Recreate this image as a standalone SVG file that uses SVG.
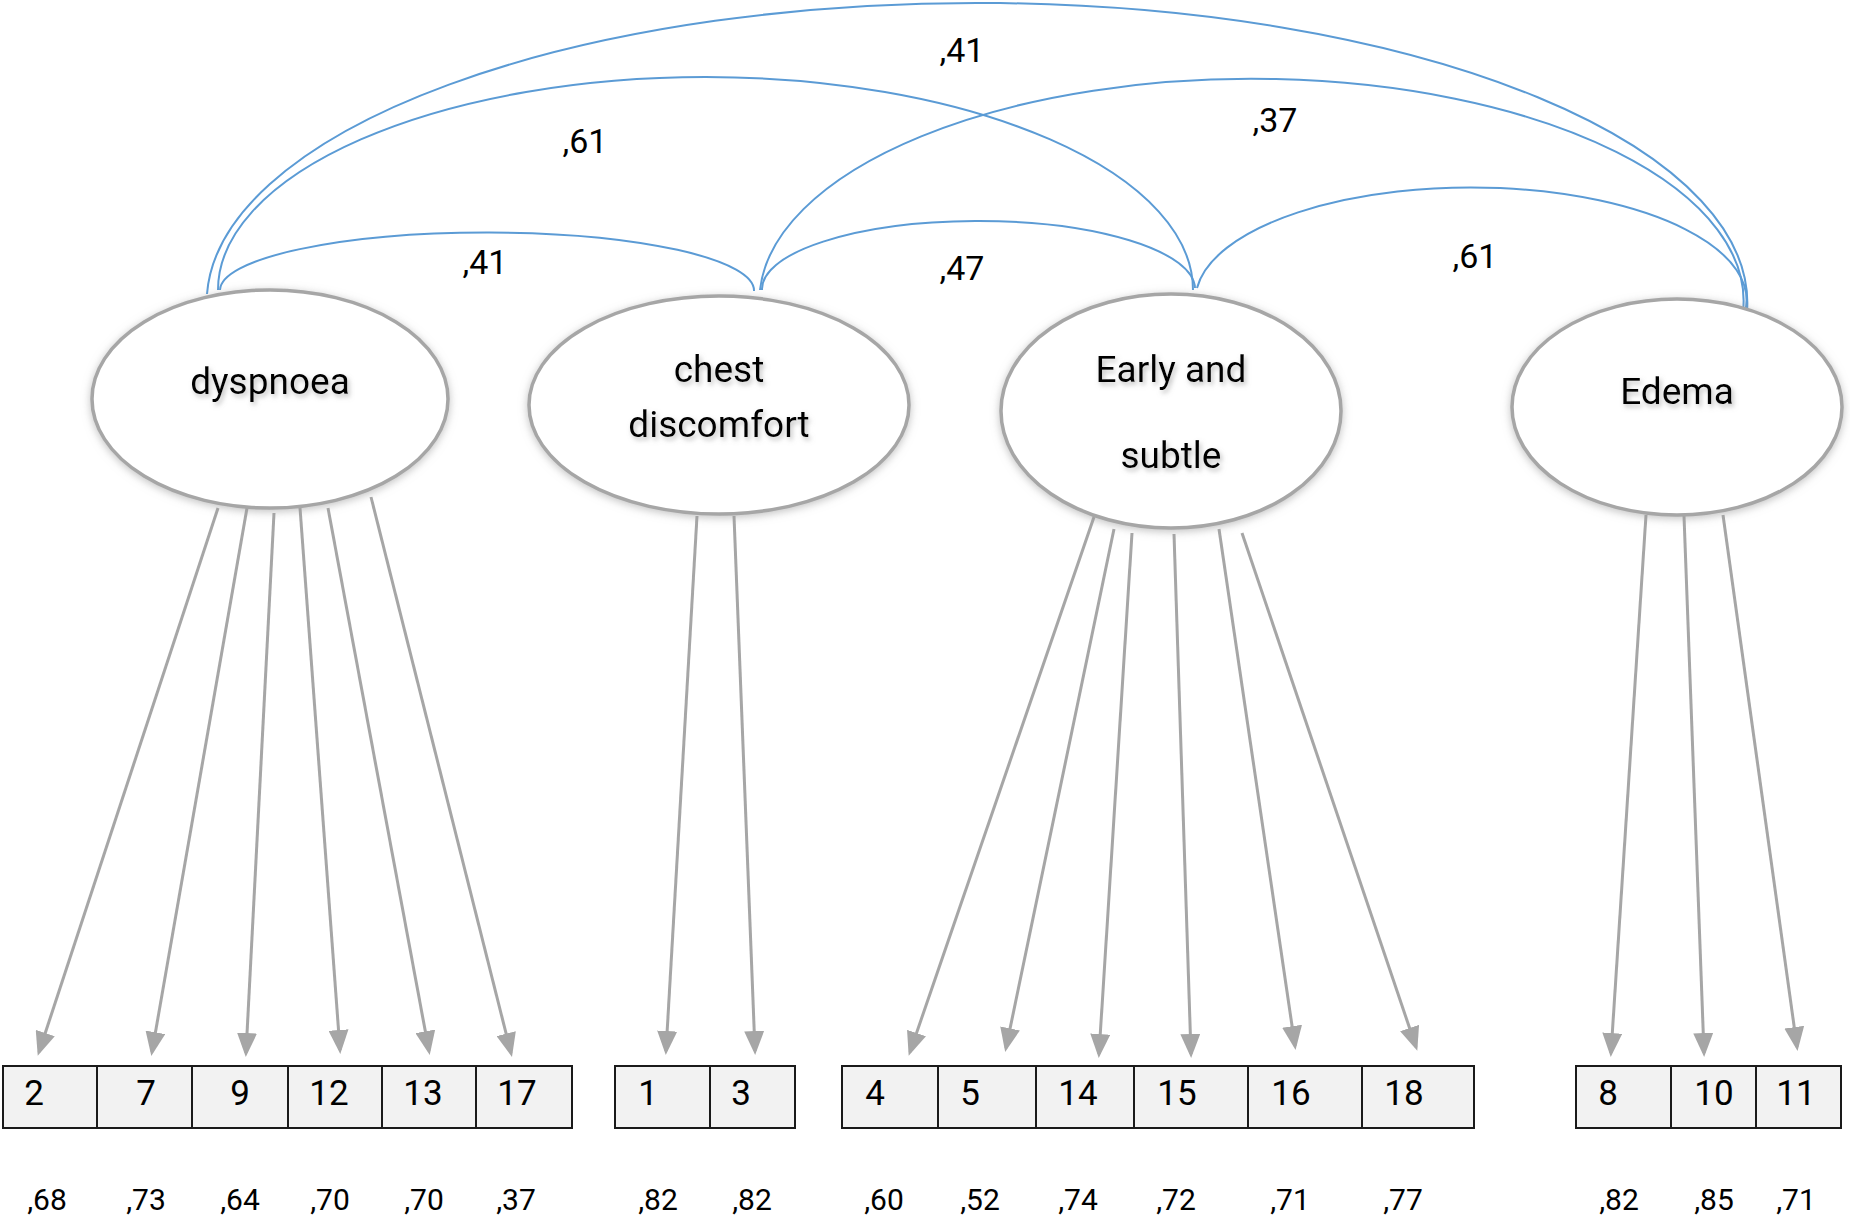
<svg xmlns="http://www.w3.org/2000/svg" width="1850" height="1218" viewBox="0 0 1850 1218">
<defs>
<style>
.lat{fill:#ffffff;stroke:#a6a6a6;stroke-width:3.5}
.lbl{font-family:Roboto,"Open Sans",sans-serif;font-size:37px;fill:#000;text-anchor:middle}
.cor{fill:none;stroke:#5b9bd5;stroke-width:2}
.cv{font-family:Roboto,"Open Sans",sans-serif;font-size:34px;fill:#000;text-anchor:middle}
.ld{stroke:#a6a6a6;stroke-width:3;fill:none;marker-end:url(#ah)}
.cell{fill:#f2f2f2;stroke:#1a1a1a;stroke-width:2}
.num{font-family:Roboto,"Open Sans",sans-serif;font-size:35px;fill:#000;text-anchor:middle}
.val{font-family:Roboto,"Open Sans",sans-serif;font-size:30px;fill:#000;text-anchor:middle}
</style>
<marker id="ah" markerUnits="userSpaceOnUse" markerWidth="24" markerHeight="20" refX="20" refY="10" orient="auto">
<path d="M0,0 L24,10 L0,20 Z" fill="#a6a6a6"/>
</marker>
<filter id="sh" x="-20%" y="-20%" width="140%" height="140%">
<feGaussianBlur in="SourceAlpha" stdDeviation="4"/>
<feOffset dx="0" dy="2" result="b"/>
<feFlood flood-color="#999999" flood-opacity="0.6"/>
<feComposite in2="b" operator="in"/>
<feMerge><feMergeNode/><feMergeNode in="SourceGraphic"/></feMerge>
</filter>
<filter id="tsh" x="-20%" y="-30%" width="140%" height="160%">
<feGaussianBlur in="SourceAlpha" stdDeviation="2.5"/>
<feOffset dx="2" dy="3" result="b"/>
<feFlood flood-color="#888888" flood-opacity="0.55"/>
<feComposite in2="b" operator="in"/>
<feMerge><feMergeNode/><feMergeNode in="SourceGraphic"/></feMerge>
</filter>
</defs>
<rect width="1850" height="1218" fill="#ffffff"/>

<g id="connectors">
<g id="correlations">
<path class="cor" d="M207,294 A770,300 0 0 1 1747,312"/>
<path class="cor" d="M218,290 A487.5,213 0 0 1 1193,290"/>
<path class="cor" d="M220,290 A267,58 0 0 1 754,291"/>
<path class="cor" d="M760,290 A491.6,222 0 0 1 1743,312"/>
<path class="cor" d="M762,290 A216.5,68 0 0 1 1195,288"/>
<path class="cor" d="M1197,288 A274,112 0 0 1 1745,312"/>
</g>
<g id="loadings">
<line class="ld" x1="218" y1="508" x2="39" y2="1052"/>
<line class="ld" x1="247" y1="508" x2="152" y2="1052"/>
<line class="ld" x1="274" y1="513" x2="246" y2="1053"/>
<line class="ld" x1="300" y1="508" x2="340" y2="1050"/>
<line class="ld" x1="328" y1="508" x2="429" y2="1051"/>
<line class="ld" x1="371" y1="497" x2="511" y2="1053"/>
<line class="ld" x1="697" y1="516" x2="666" y2="1051"/>
<line class="ld" x1="734" y1="516" x2="755" y2="1051"/>
<line class="ld" x1="1094" y1="517" x2="910" y2="1052"/>
<line class="ld" x1="1114" y1="529" x2="1006" y2="1048"/>
<line class="ld" x1="1132" y1="533" x2="1099" y2="1054"/>
<line class="ld" x1="1174" y1="534" x2="1191" y2="1054"/>
<line class="ld" x1="1219" y1="529" x2="1295" y2="1046"/>
<line class="ld" x1="1242" y1="533" x2="1416" y2="1047"/>
<line class="ld" x1="1646" y1="515" x2="1611" y2="1053"/>
<line class="ld" x1="1684" y1="516" x2="1704" y2="1053"/>
<line class="ld" x1="1723" y1="515" x2="1797" y2="1047"/>
</g>
<g id="correlation-labels">
<text class="cv" x="962" y="62">,41</text>
<text class="cv" x="585" y="153">,61</text>
<text class="cv" x="1275" y="132">,37</text>
<text class="cv" x="485" y="274">,41</text>
<text class="cv" x="962" y="280">,47</text>
<text class="cv" x="1475" y="268">,61</text>
</g>
</g>

<g id="dyspnoea">
<ellipse class="lat" filter="url(#sh)" cx="270" cy="399" rx="178" ry="109"/>
<text class="lbl" filter="url(#tsh)" x="270" y="394">dyspnoea</text>
</g>
<g id="chest-discomfort">
<ellipse class="lat" filter="url(#sh)" cx="719" cy="405" rx="190" ry="109"/>
<text class="lbl" filter="url(#tsh)" x="719" y="382">chest</text>
<text class="lbl" filter="url(#tsh)" x="719" y="437">discomfort</text>
</g>
<g id="early-and-subtle">
<ellipse class="lat" filter="url(#sh)" cx="1171" cy="411" rx="170" ry="117"/>
<text class="lbl" filter="url(#tsh)" x="1171" y="382">Early and</text>
<text class="lbl" filter="url(#tsh)" x="1171" y="468">subtle</text>
</g>
<g id="edema">
<ellipse class="lat" filter="url(#sh)" cx="1677" cy="407" rx="165" ry="108"/>
<text class="lbl" filter="url(#tsh)" x="1677" y="404">Edema</text>
</g>

<g id="item-2"><rect class="cell" x="3" y="1066" width="94" height="62"/><text class="num" x="34" y="1105">2</text><text class="val" x="47" y="1210">,68</text></g>
<g id="item-7"><rect class="cell" x="97" y="1066" width="95" height="62"/><text class="num" x="146" y="1105">7</text><text class="val" x="146" y="1210">,73</text></g>
<g id="item-9"><rect class="cell" x="192" y="1066" width="96" height="62"/><text class="num" x="240" y="1105">9</text><text class="val" x="240" y="1210">,64</text></g>
<g id="item-12"><rect class="cell" x="288" y="1066" width="94" height="62"/><text class="num" x="329" y="1105">12</text><text class="val" x="330" y="1210">,70</text></g>
<g id="item-13"><rect class="cell" x="382" y="1066" width="94" height="62"/><text class="num" x="423" y="1105">13</text><text class="val" x="424" y="1210">,70</text></g>
<g id="item-17"><rect class="cell" x="476" y="1066" width="96" height="62"/><text class="num" x="517" y="1105">17</text><text class="val" x="516" y="1210">,37</text></g>

<g id="item-1"><rect class="cell" x="615" y="1066" width="95" height="62"/><text class="num" x="648" y="1105">1</text><text class="val" x="658" y="1210">,82</text></g>
<g id="item-3"><rect class="cell" x="710" y="1066" width="85" height="62"/><text class="num" x="741" y="1105">3</text><text class="val" x="752" y="1210">,82</text></g>

<g id="item-4"><rect class="cell" x="842" y="1066" width="96" height="62"/><text class="num" x="875" y="1105">4</text><text class="val" x="884" y="1210">,60</text></g>
<g id="item-5"><rect class="cell" x="938" y="1066" width="98" height="62"/><text class="num" x="970" y="1105">5</text><text class="val" x="980" y="1210">,52</text></g>
<g id="item-14"><rect class="cell" x="1036" y="1066" width="98" height="62"/><text class="num" x="1078" y="1105">14</text><text class="val" x="1078" y="1210">,74</text></g>
<g id="item-15"><rect class="cell" x="1134" y="1066" width="114" height="62"/><text class="num" x="1177" y="1105">15</text><text class="val" x="1176" y="1210">,72</text></g>
<g id="item-16"><rect class="cell" x="1248" y="1066" width="114" height="62"/><text class="num" x="1291" y="1105">16</text><text class="val" x="1290" y="1210">,71</text></g>
<g id="item-18"><rect class="cell" x="1362" y="1066" width="112" height="62"/><text class="num" x="1404" y="1105">18</text><text class="val" x="1403" y="1210">,77</text></g>

<g id="item-8"><rect class="cell" x="1576" y="1066" width="95" height="62"/><text class="num" x="1608" y="1105">8</text><text class="val" x="1619" y="1210">,82</text></g>
<g id="item-10"><rect class="cell" x="1671" y="1066" width="85" height="62"/><text class="num" x="1714" y="1105">10</text><text class="val" x="1714" y="1210">,85</text></g>
<g id="item-11"><rect class="cell" x="1756" y="1066" width="85" height="62"/><text class="num" x="1796" y="1105">11</text><text class="val" x="1796" y="1210">,71</text></g>
</svg>
